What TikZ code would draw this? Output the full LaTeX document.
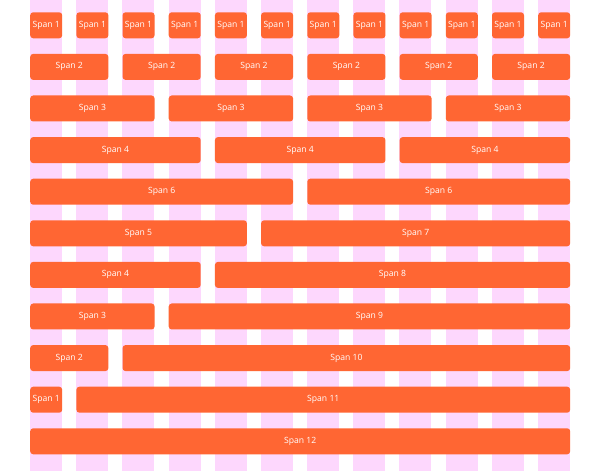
\documentclass[tikz,border=0pt]{standalone}
\usepackage{fontspec}
\setmainfont{Open Sans}
\definecolor{gridpink}{HTML}{FDD7FD}
\definecolor{spanorange}{HTML}{FF6633}
\newcommand\spanbox[4]{% name, row, startcol, span
  \pgfmathsetmacro\spxa{30+#3*46.18}%
  \pgfmathsetmacro\spwd{#4*32+(#4-1)*14.18}%
  \pgfmathsetmacro\spyc{471-(12.3+#2*41.6+13)}%
  \node[spanbox, minimum width=\spwd pt, anchor=west] (#1) at (\spxa,\spyc) {Span #4};%
}
\tikzset{
  spanbox/.style={rectangle, rounded corners=3pt, fill=spanorange, text=white,
    minimum height=26pt, inner sep=0pt, font=\fontsize{8.6}{10}\selectfont},
  gridcol/.style={fill=gridpink, draw=none}
}
\begin{document}
\begin{tikzpicture}[x=1pt,y=1pt]
\useasboundingbox (0,0) rectangle (600,471);
\fill[white] (0,0) rectangle (600,471);
\foreach \c in {0,...,11}{
  \fill[gridcol] ({30+\c*46.18},0) rectangle ({62+\c*46.18},471);
}
% row 0: span 1
\foreach \c in {0,...,11}{ \spanbox{a\c}{0}{\c}{1} }
% row 1: span 2
\foreach \i in {0,...,5}{ \spanbox{b\i}{1}{2*\i}{2} }
% row 2: span 3
\foreach \i in {0,...,3}{ \spanbox{c\i}{2}{3*\i}{3} }
% row 3: span 4
\foreach \i in {0,...,2}{ \spanbox{d\i}{3}{4*\i}{4} }
% row 4: span 6
\foreach \i in {0,1}{ \spanbox{e\i}{4}{6*\i}{6} }
% rows 5-9
\spanbox{f0}{5}{0}{5}  \spanbox{f1}{5}{5}{7}
\spanbox{g0}{6}{0}{4}  \spanbox{g1}{6}{4}{8}
\spanbox{h0}{7}{0}{3}  \spanbox{h1}{7}{3}{9}
\spanbox{i0}{8}{0}{2}  \spanbox{i1}{8}{2}{10}
\spanbox{j0}{9}{0}{1}  \spanbox{j1}{9}{1}{11}
\spanbox{k0}{10}{0}{12}
\end{tikzpicture}
\end{document}
